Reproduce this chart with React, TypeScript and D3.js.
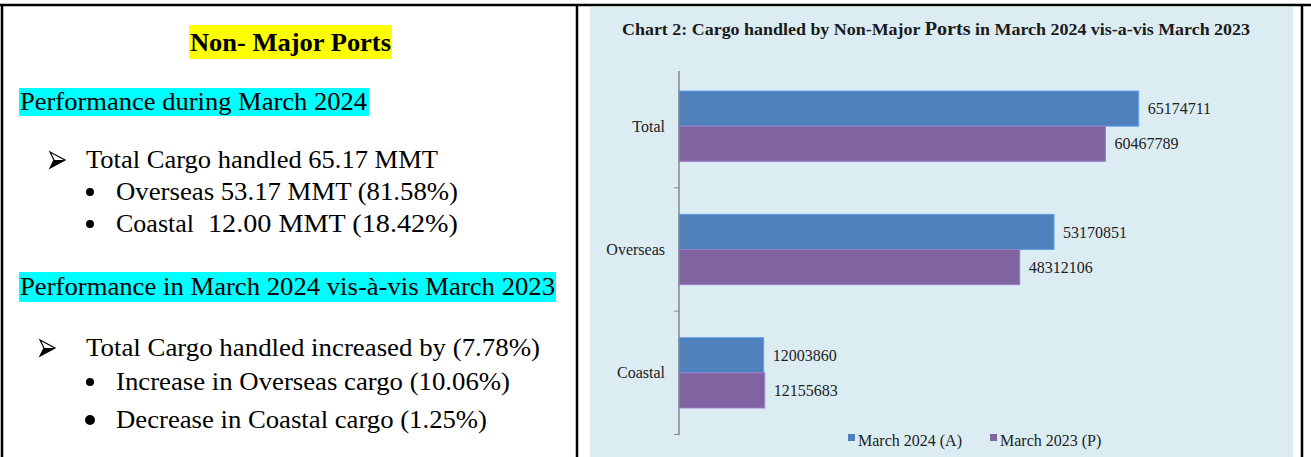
import React from 'react';
import * as d3 from 'd3';

// chart data
const categories = ['Total', 'Overseas', 'Coastal'];
const seriesNames = ['March 2024 (A)', 'March 2023 (P)'];
const march2024 = [65174711, 53170851, 12003860];
const march2023 = [60467789, 48312106, 12155683];
const seriesColors = ['#4f81bd', '#8064a2'];

// left panel text
const heading = 'Non- Major Ports';
const section1 = 'Performance during March 2024';
const section1Main = 'Total Cargo handled 65.17 MMT';
const section1Bullets = ['Overseas 53.17 MMT (81.58%)', 'Coastal', '12.00 MMT (18.42%)'];
const section2 = 'Performance in March 2024 vis-à-vis March 2023';
const section2Main = 'Total Cargo handled increased by (7.78%)';
const section2Bullets = ['Increase in Overseas cargo (10.06%)', 'Decrease in Coastal cargo (1.25%)'];

const W = 1311;
const H = 457;
const serif = "'Liberation Serif', 'Times New Roman', Tinos, Times, serif";

// arrowhead bullet (wingdings style)
const Arrow: React.FC<{ x: number; y: number }> = ({ x, y }) => (
  <g transform={`translate(${x},${y})`}>
    <path d="M0,-8 L15,0 L0,8 L4,0 Z" fill="#fff" stroke="#000" strokeWidth={1.2} strokeLinejoin="miter" />
    <path d="M4,0 L15,0 L0,8 Z" fill="#000" />
  </g>
);

const App: React.FC = () => {
  const x = d3.scaleLinear().domain([0, 70000000]).range([679, 1172.7]);
  const y0 = d3.scaleBand<string>()
    .domain(categories)
    .range([64.5, 434.5])
    .paddingInner(0.43)
    .paddingOuter(0.215);
  const y1 = d3.scaleBand<number>()
    .domain([0, 1])
    .range([0, y0.bandwidth()]);
  const step = y0.step();

  const series = [march2024, march2023];

  return (
    <svg width={W} height={H} style={{ position: 'absolute', left: 0, top: 0, background: '#fff', fontFamily: serif }}>
      {/* table borders */}
      <line x1={0} x2={W} y1={5} y2={5} stroke="#000" strokeWidth={2.5} />
      <line x1={2} x2={2} y1={4} y2={H} stroke="#000" strokeWidth={2.5} />
      <line x1={577} x2={577} y1={4} y2={H} stroke="#000" strokeWidth={2.5} />
      <line x1={1302} x2={1302} y1={4} y2={H} stroke="#000" strokeWidth={2.5} />

      {/* left panel */}
      <rect x={189} y={25} width={203} height={34} fill="#ffff00" />
      <text x={190} y={51} fontSize={25} fontWeight="bold" textLength={201} lengthAdjust="spacingAndGlyphs">{heading}</text>

      <rect x={19} y={88} width={350} height={28} fill="#00ffff" />
      <text x={20} y={110} fontSize={25} textLength={347} lengthAdjust="spacingAndGlyphs">{section1}</text>

      <Arrow x={50} y={160} />
      <text x={86} y={168} fontSize={25} textLength={352} lengthAdjust="spacingAndGlyphs">{section1Main}</text>
      <circle cx={90} cy={192} r={4} fill="#000" />
      <text x={116} y={200} fontSize={25} textLength={342} lengthAdjust="spacingAndGlyphs">{section1Bullets[0]}</text>
      <circle cx={90} cy={224} r={4} fill="#000" />
      <text x={116} y={232} fontSize={25} textLength={78} lengthAdjust="spacingAndGlyphs">{section1Bullets[1]}</text>
      <text x={208} y={232} fontSize={25} textLength={250} lengthAdjust="spacingAndGlyphs">{section1Bullets[2]}</text>

      <rect x={19} y={272} width={537} height={30} fill="#00ffff" />
      <text x={20} y={295} fontSize={25} textLength={535} lengthAdjust="spacingAndGlyphs">{section2}</text>

      <Arrow x={40} y={348} />
      <text x={86} y={356} fontSize={25} textLength={454} lengthAdjust="spacingAndGlyphs">{section2Main}</text>
      <circle cx={90} cy={382} r={4} fill="#000" />
      <text x={116} y={390} fontSize={25} textLength={394} lengthAdjust="spacingAndGlyphs">{section2Bullets[0]}</text>
      <circle cx={90} cy={420} r={5} fill="#000" />
      <text x={116} y={428} fontSize={25} textLength={371} lengthAdjust="spacingAndGlyphs">{section2Bullets[1]}</text>

      {/* chart panel */}
      <rect x={590} y={7} width={703} height={H - 7} fill="#dbedf3" />
      <text x={622} y={35} fontSize={16} fontWeight="bold" fill="#1a1a1a" textLength={628} lengthAdjust="spacingAndGlyphs">
        Chart 2: Cargo handled by Non-Major <tspan fontSize={18}>Ports</tspan> in March 2024 vis-a-vis March 2023
      </text>

      {/* bars */}
      {categories.map((c, i) => (
        <g key={c} transform={`translate(0,${y0(c)})`}>
          {series.map((vals, s) => (
            <g key={s}>
              <rect
                x={x(0)}
                y={y1(s)}
                width={x(vals[i]) - x(0)}
                height={y1.bandwidth()}
                fill={seriesColors[s]}
                stroke={d3.color(seriesColors[s])!.brighter(0.6).toString()}
                strokeWidth={1}
              />
              <text
                x={x(vals[i]) + 9}
                y={y1(s)! + y1.bandwidth() / 2}
                dy="0.35em"
                fontSize={16}
                fill="#222"
              >
                {vals[i]}
              </text>
            </g>
          ))}
        </g>
      ))}

      {/* category axis */}
      <line x1={679} x2={679} y1={71} y2={435} stroke="#868686" strokeWidth={1.5} />
      {categories.map((c, i) => (
        <g key={c}>
          <line x1={674} x2={679} y1={64.5 + step * (i + 1)} y2={64.5 + step * (i + 1)} stroke="#868686" strokeWidth={1} />
          <text x={665} y={y0(c)! + y0.bandwidth() / 2} dy="0.35em" textAnchor="end" fontSize={16} fill="#222">
            {c}
          </text>
        </g>
      ))}

      {/* legend */}
      {seriesNames.map((n, s) => (
        <g key={n} transform={`translate(${s === 0 ? 848 : 990},0)`}>
          <rect x={0} y={434} width={7} height={7} fill={seriesColors[s]} />
          <text x={10} y={446} fontSize={16} fill="#222">{n}</text>
        </g>
      ))}
    </svg>
  );
};

export default App;
